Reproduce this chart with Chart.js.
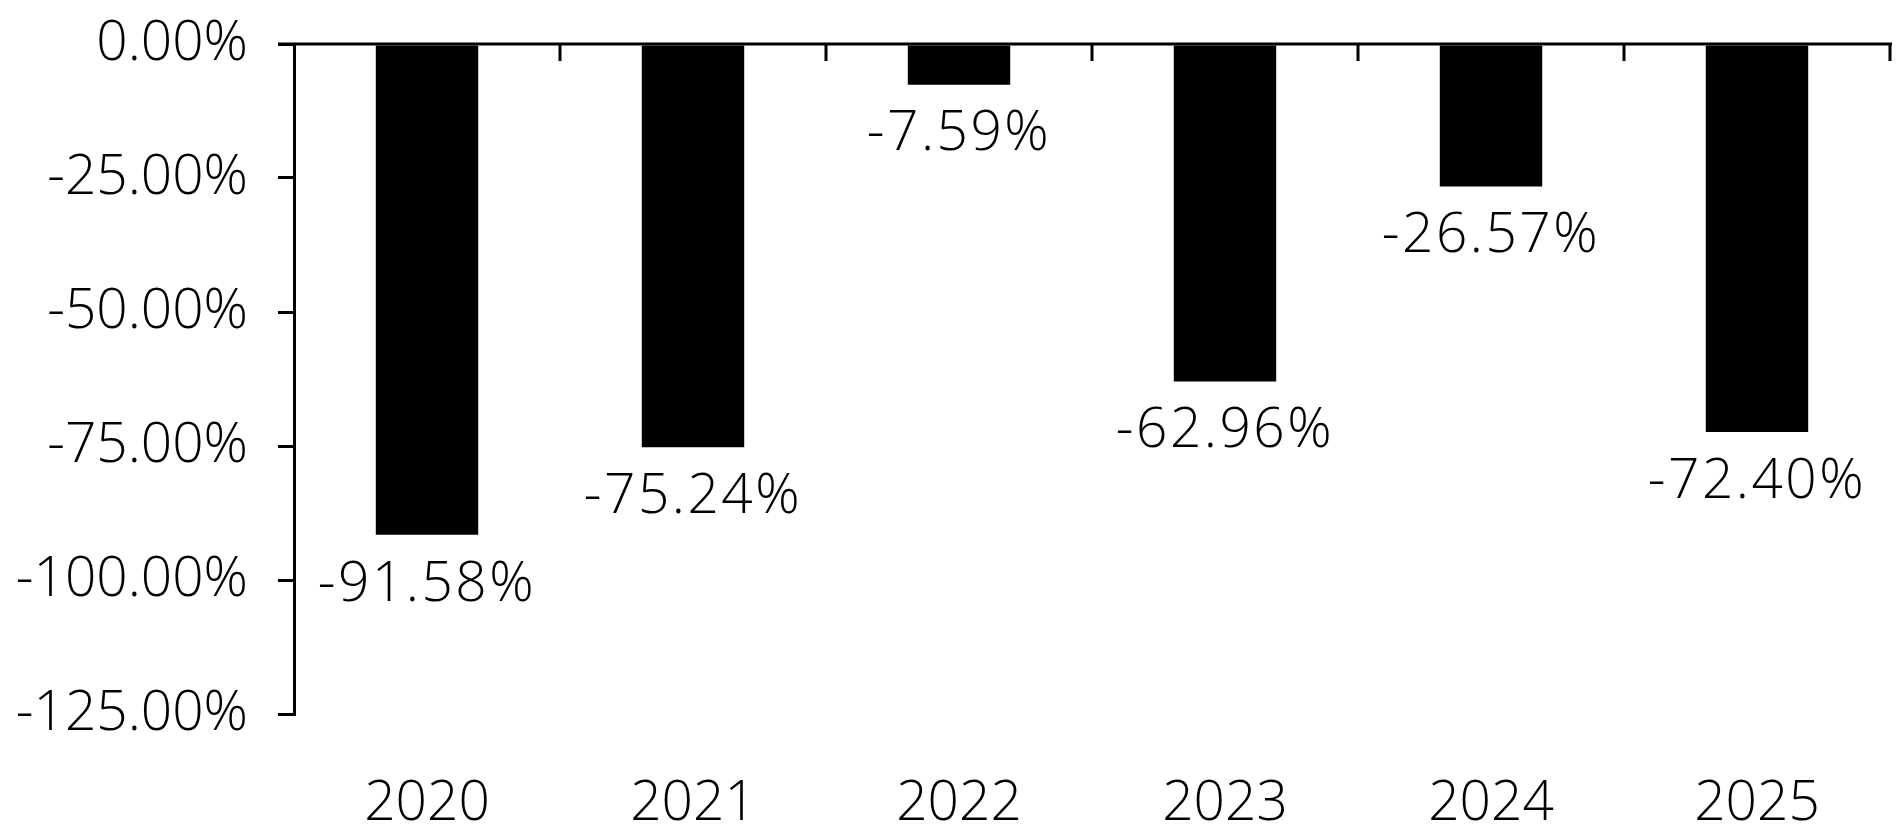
<!DOCTYPE html>
<html>
<head>
<meta charset="utf-8">
<script src="https://cdn.jsdelivr.net/npm/chart.js@4"></script>
<style>
  html, body { margin: 0; padding: 0; background: #fff; }
  #wrap { width: 1900px; height: 833px; position: relative; }
</style>
</head>
<body>
<div id="wrap"><canvas id="chart"></canvas></div>
<script>
// ===== DATA =====
const YEARS  = ['2020', '2021', '2022', '2023', '2024', '2025'];
const VALUES = [-91.58, -75.24, -7.59, -62.96, -26.57, -72.40];
const Y_MIN = -125, Y_MAX = 0, Y_STEP = 25;

const FONT = '"Open Sans", "DejaVu Sans", sans-serif';
const WEIGHT = 350;
const INK = '#000';

// zero line along the top with category tick marks hanging down
const zeroAxis = {
  id: 'zeroAxis',
  afterDatasetsDraw(chart) {
    const { ctx, scales: { x, y } } = chart;
    const y0 = y.getPixelForValue(0);
    const n = YEARS.length;
    const step = (x.right - x.left) / n;
    ctx.save();
    ctx.strokeStyle = INK;
    ctx.lineWidth = 3;
    ctx.beginPath();
    ctx.moveTo(x.left - 16, y0);
    ctx.lineTo(x.right + 2, y0);
    for (let i = 1; i <= n; i++) {
      const px = x.left + i * step;
      ctx.moveTo(px, y0);
      ctx.lineTo(px, y0 + 17);
    }
    ctx.stroke();
    ctx.restore();
  },
};

// value labels under each bar end
const barLabels = {
  id: 'barLabels',
  afterDatasetsDraw(chart) {
    const { ctx } = chart;
    const meta = chart.getDatasetMeta(0);
    ctx.save();
    ctx.fillStyle = INK;
    ctx.font = WEIGHT + ' 55px ' + FONT;
    ctx.textAlign = 'center';
    ctx.textBaseline = 'middle';
    ctx.letterSpacing = '2.5px';
    meta.data.forEach((bar, i) => {
      ctx.fillText(VALUES[i].toFixed(2) + '%', bar.x, bar.y + 50);
    });
    ctx.restore();
  },
};

new Chart(document.getElementById('chart'), {
  type: 'bar',
  data: {
    labels: YEARS,
    datasets: [{
      data: VALUES,
      backgroundColor: INK,
      borderWidth: 0,
      categoryPercentage: 1,
      barPercentage: 0.385,
    }],
  },
  options: {
    responsive: true, maintainAspectRatio: false,
    animation: false,
    layout: { padding: { top: 44, right: 10, bottom: 0, left: 0 } },
    plugins: {
      legend: { display: false },
      tooltip: { enabled: false },
    },
    scales: {
      x: {
        grid: { display: false, drawTicks: false },
        border: { display: false },
        ticks: { color: INK, font: { family: FONT, size: 55, weight: WEIGHT }, padding: 57 },
        afterFit: s => { s.height = 119; },
      },
      y: {
        min: Y_MIN, max: Y_MAX,
        grid: { drawOnChartArea: false, color: INK, lineWidth: 3, tickLength: 16 },
        border: { color: INK, width: 3 },
        ticks: {
          stepSize: Y_STEP, color: INK, padding: 30,
          font: { family: FONT, size: 55, weight: WEIGHT },
          callback: v => v.toFixed(2) + '%',
        },
        afterFit: s => { s.width = 294; s.paddingTop = 0; s.paddingBottom = 0; },
      },
    },
  },
  plugins: [zeroAxis, barLabels],
});
</script>
</body>
</html>
